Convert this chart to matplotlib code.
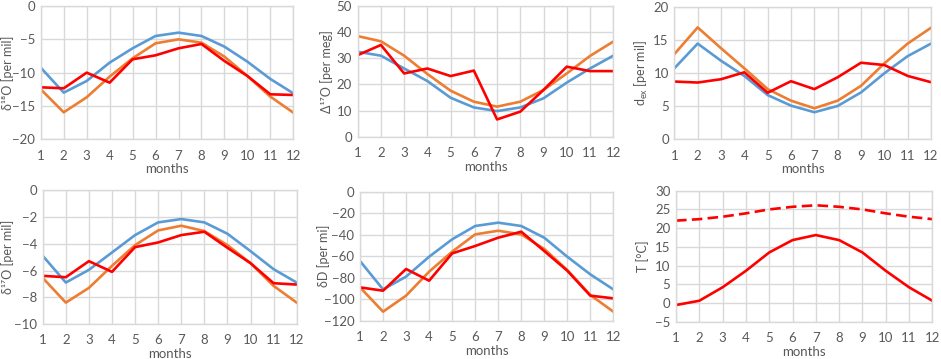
import matplotlib.pyplot as plt
import numpy as np

plt.rcParams['font.family'] = ['Lato', 'DejaVu Sans']
plt.rcParams['mathtext.default'] = 'regular'

months = list(range(1, 13))

# delta 18O [per mil]
d18o_blue = [-9.25, -13.0, -11.25, -8.5, -6.35, -4.5, -4.0, -4.5, -6.1, -8.35, -10.95, -13.1]
d18o_orange = [-12.5, -15.95, -13.7, -10.6, -7.85, -5.6, -5.0, -5.5, -7.6, -10.5, -13.6, -16.0]
d18o_red = [-12.2, -12.35, -10.0, -11.5, -8.0, -7.4, -6.35, -5.7, -8.25, -10.5, -13.25, -13.35]

# Delta 17O [per meg]
D17o_blue = [32.5, 31.0, 26.1, 21.3, 14.9, 11.2, 9.8, 11.2, 14.7, 20.7, 26.1, 31.0]
D17o_orange = [38.5, 36.5, 31.0, 24.0, 17.6, 13.4, 11.5, 13.4, 17.9, 24.2, 30.9, 36.4]
D17o_red = [31.2, 35.1, 24.2, 26.1, 23.2, 25.3, 6.6, 9.6, 17.9, 26.8, 25.1, 25.1]

# d-excess [per mil]
dex_blue = [10.75, 14.5, 11.9, 9.6, 6.7, 5.1, 4.1, 5.05, 7.1, 10.0, 12.6, 14.5]
dex_orange = [12.9, 16.95, 13.8, 10.75, 7.6, 5.85, 4.7, 5.85, 8.1, 11.5, 14.5, 16.9]
dex_red = [8.75, 8.6, 9.1, 10.15, 7.05, 8.8, 7.6, 9.4, 11.6, 11.25, 9.6, 8.65]

# delta 17O [per mil]
d17o_blue = [-4.9, -6.9, -5.95, -4.65, -3.35, -2.4, -2.15, -2.4, -3.25, -4.55, -5.9, -6.9]
d17o_orange = [-6.55, -8.4, -7.3, -5.65, -4.1, -3.0, -2.65, -3.05, -4.1, -5.45, -7.15, -8.4]
d17o_red = [-6.4, -6.5, -5.3, -6.1, -4.25, -3.9, -3.35, -3.1, -4.3, -5.45, -6.95, -7.05]

# delta D [per mil]
dD_blue = [-64.5, -90.9, -79.0, -60.5, -44.3, -31.9, -28.8, -31.9, -42.8, -60.5, -76.9, -90.9]
dD_orange = [-89.0, -111.6, -96.7, -74.4, -55.8, -39.7, -36.3, -39.7, -53.3, -72.9, -96.1, -111.6]
dD_red = [-89.0, -92.1, -71.9, -82.8, -57.4, -50.5, -42.8, -37.2, -55.2, -73.5, -96.7, -99.2]

# temperature [deg C]
T_dashed = [22.0, 22.4, 23.05, 23.95, 25.0, 25.7, 26.1, 25.7, 25.0, 23.95, 23.05, 22.4]
T_solid = [-0.55, 0.6, 4.2, 8.6, 13.5, 16.8, 18.15, 16.8, 13.5, 8.6, 4.2, 0.6]

blue = '#5B9BD5'
orange = '#ED7D31'
red = '#FF0000'
grid = '#D9D9D9'
txt = '#595959'

fig = plt.figure(figsize=(9.41, 3.59), dpi=100)

# [left, bottom, width, height]
boxes = [
    [0.0433, 0.612, 0.2684, 0.3713],
    [0.3801, 0.6192, 0.2716, 0.364],
    [0.7166, 0.612, 0.2728, 0.3677],
    [0.0454, 0.0975, 0.2699, 0.3724],
    [0.3826, 0.1067, 0.2692, 0.3593],
    [0.7184, 0.1039, 0.2724, 0.3649],
]
# x position of each y label (axes fraction)
label_x = [-0.106, -0.098, -0.096, -0.113, -0.12, -0.105]


def style(ax, ylim, step, ylabel, lx):
    ax.set_xlim(1, 12)
    ax.set_ylim(*ylim)
    ax.set_xticks(months)
    ax.set_yticks(np.arange(ylim[0], ylim[1] + step / 2, step))
    ax.grid(True, color=grid, linewidth=1)
    ax.set_axisbelow(True)
    for s in ax.spines.values():
        s.set_color(grid)
        s.set_linewidth(1)
    ax.tick_params(length=0, labelsize=9.5, colors=txt)
    ax.tick_params(axis='y', pad=4)
    ax.tick_params(axis='x', pad=7.5)
    ax.set_xlabel('months', fontsize=9.5, color=txt, labelpad=1)
    ax.set_ylabel(ylabel, fontsize=9, color=txt)
    ax.yaxis.set_label_coords(lx, 0.5)


lw = 1.9
ax = fig.add_axes(boxes[0])
ax.plot(months, d18o_blue, color=blue, lw=lw)
ax.plot(months, d18o_orange, color=orange, lw=lw)
ax.plot(months, d18o_red, color=red, lw=lw)
style(ax, (-20, 0), 5, 'δ¹⁸O [per mil]', label_x[0])

ax = fig.add_axes(boxes[1])
ax.plot(months, D17o_blue, color=blue, lw=lw)
ax.plot(months, D17o_orange, color=orange, lw=lw)
ax.plot(months, D17o_red, color=red, lw=lw)
style(ax, (0, 50), 10, 'Δ¹⁷O [per meg]', label_x[1])

ax = fig.add_axes(boxes[2])
ax.plot(months, dex_blue, color=blue, lw=lw)
ax.plot(months, dex_orange, color=orange, lw=lw)
ax.plot(months, dex_red, color=red, lw=lw)
style(ax, (0, 20), 5, r'd$_{ex}$ [per mil]', label_x[2])

ax = fig.add_axes(boxes[3])
ax.plot(months, d17o_blue, color=blue, lw=lw)
ax.plot(months, d17o_orange, color=orange, lw=lw)
ax.plot(months, d17o_red, color=red, lw=lw)
style(ax, (-10, 0), 2, 'δ¹⁷O [per mil]', label_x[3])

ax = fig.add_axes(boxes[4])
ax.plot(months, dD_blue, color=blue, lw=lw)
ax.plot(months, dD_orange, color=orange, lw=lw)
ax.plot(months, dD_red, color=red, lw=lw)
style(ax, (-120, 0), 20, 'δD [per mi]', label_x[4])

ax = fig.add_axes(boxes[5])
ax.plot(months, T_dashed, color=red, lw=lw, linestyle=(0, (4, 2)))
ax.plot(months, T_solid, color=red, lw=lw)
style(ax, (-5, 30), 5, 'T [°C]', label_x[5])

fig.savefig('out.png', dpi=100)
